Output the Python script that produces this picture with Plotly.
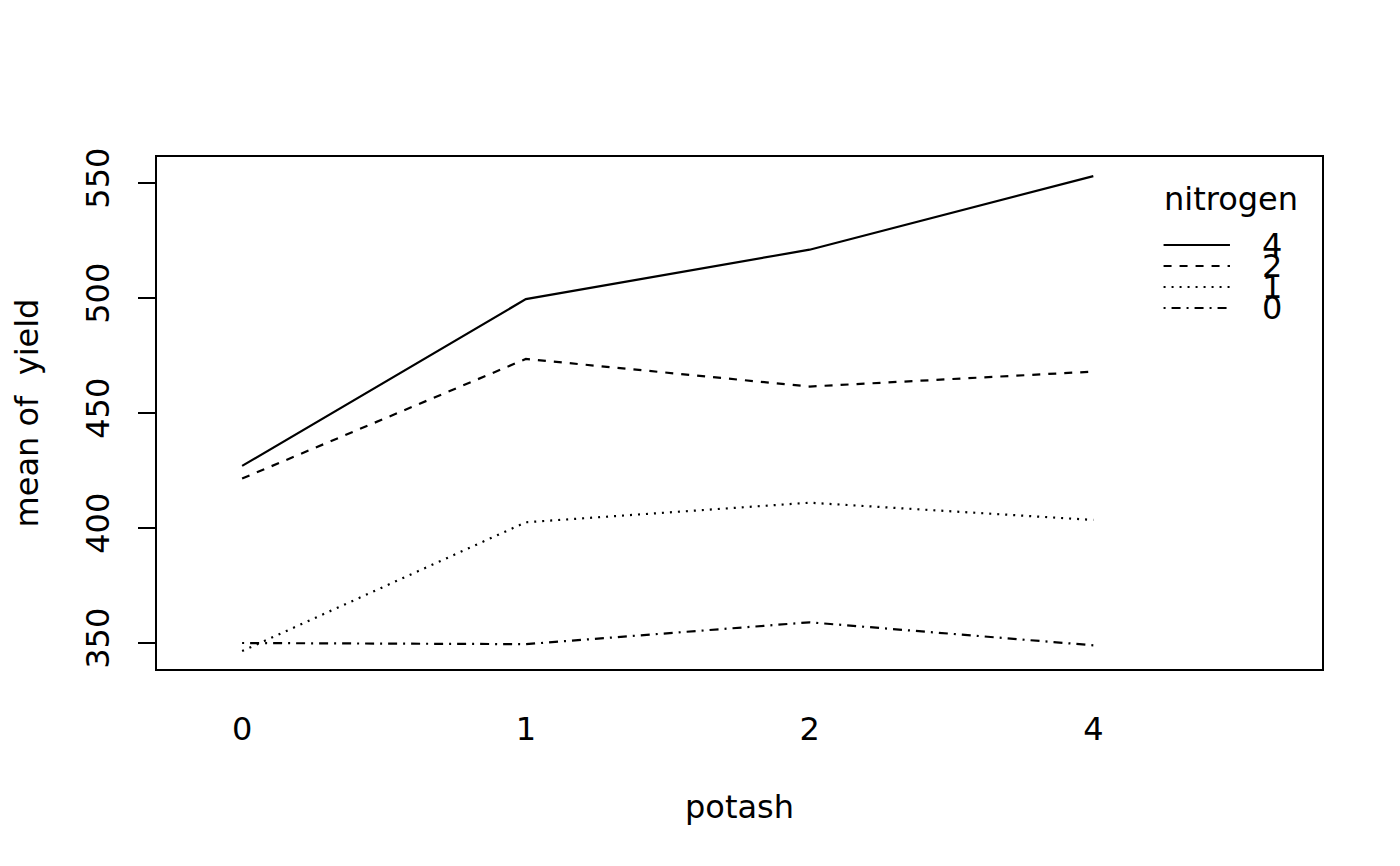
import plotly.graph_objects as go

# Data: mean yield by potash level, one series per nitrogen level
potash = ['0', '1', '2', '4']
nitrogen = ['4', '2', '1', '0']
yield_n4 = [427, 499.5, 521, 553]
yield_n2 = [421.5, 473.5, 461.5, 468]
yield_n1 = [346.5, 402.5, 411, 403.5]
yield_n0 = [350, 349.5, 359, 349]

series = [yield_n4, yield_n2, yield_n1, yield_n0]
# R line types: solid, dashed, dotted, dotdash
dashes = ['solid', '8px,8px', '2px,6px', '2px,6px,9px,6px']

FONT = 'DejaVu Sans'
FS = 32
LW = 2.2

fig = go.Figure()

for name, vals, dash in zip(nitrogen, series, dashes):
    fig.add_trace(go.Scatter(
        x=potash, y=vals, mode='lines', name=name,
        line=dict(color='black', width=LW, dash=dash),
        showlegend=False
    ))

# hand-drawn legend, R style (labels overlap like the original)
fig.add_annotation(text='nitrogen', xref='paper', yref='paper',
                   x=0.8625, y=0.918, xanchor='left', yanchor='middle',
                   showarrow=False, font=dict(family=FONT, size=FS, color='black'))
legend_y = [0.8281, 0.7871, 0.7461, 0.7051]
for name, dash, ly in zip(nitrogen, dashes, legend_y):
    fig.add_shape(type='line', xref='paper', yref='paper',
                  x0=0.864, x1=0.921, y0=ly, y1=ly,
                  line=dict(color='black', width=LW, dash=dash))
    fig.add_annotation(text=name, xref='paper', yref='paper',
                       x=0.957, y=ly, xanchor='center', yanchor='middle',
                       showarrow=False, font=dict(family=FONT, size=FS, color='black'))

fig.update_layout(
    width=1400, height=866,
    margin=dict(l=149, r=86, t=149, b=205),
    paper_bgcolor='white', plot_bgcolor='white',
    font=dict(family=FONT, size=FS, color='black'),
    xaxis=dict(
        type='category', range=[-0.3, 3.806],
        showgrid=False, zeroline=False,
        showline=True, mirror=True, linecolor='black', linewidth=2,
        ticks='outside', ticklen=31, tickcolor='rgba(0,0,0,0)',
        tickfont=dict(family=FONT, size=FS),
        title=dict(text='potash', standoff=48, font=dict(family=FONT, size=FS)),
        automargin=False,
    ),
    yaxis=dict(
        range=[338.7, 561.3],
        tickvals=[350, 400, 450, 500, 550],
        tickangle=-90,
        showgrid=False, zeroline=False,
        showline=True, mirror=True, linecolor='black', linewidth=2,
        ticks='outside', ticklen=17, tickwidth=2, tickcolor='black',
        ticklabelstandoff=16,
        tickfont=dict(family=FONT, size=FS),
        title=dict(text='mean of  yield', standoff=38, font=dict(family=FONT, size=FS)),
        automargin=False,
    ),
)

fig.write_html('out.html')
